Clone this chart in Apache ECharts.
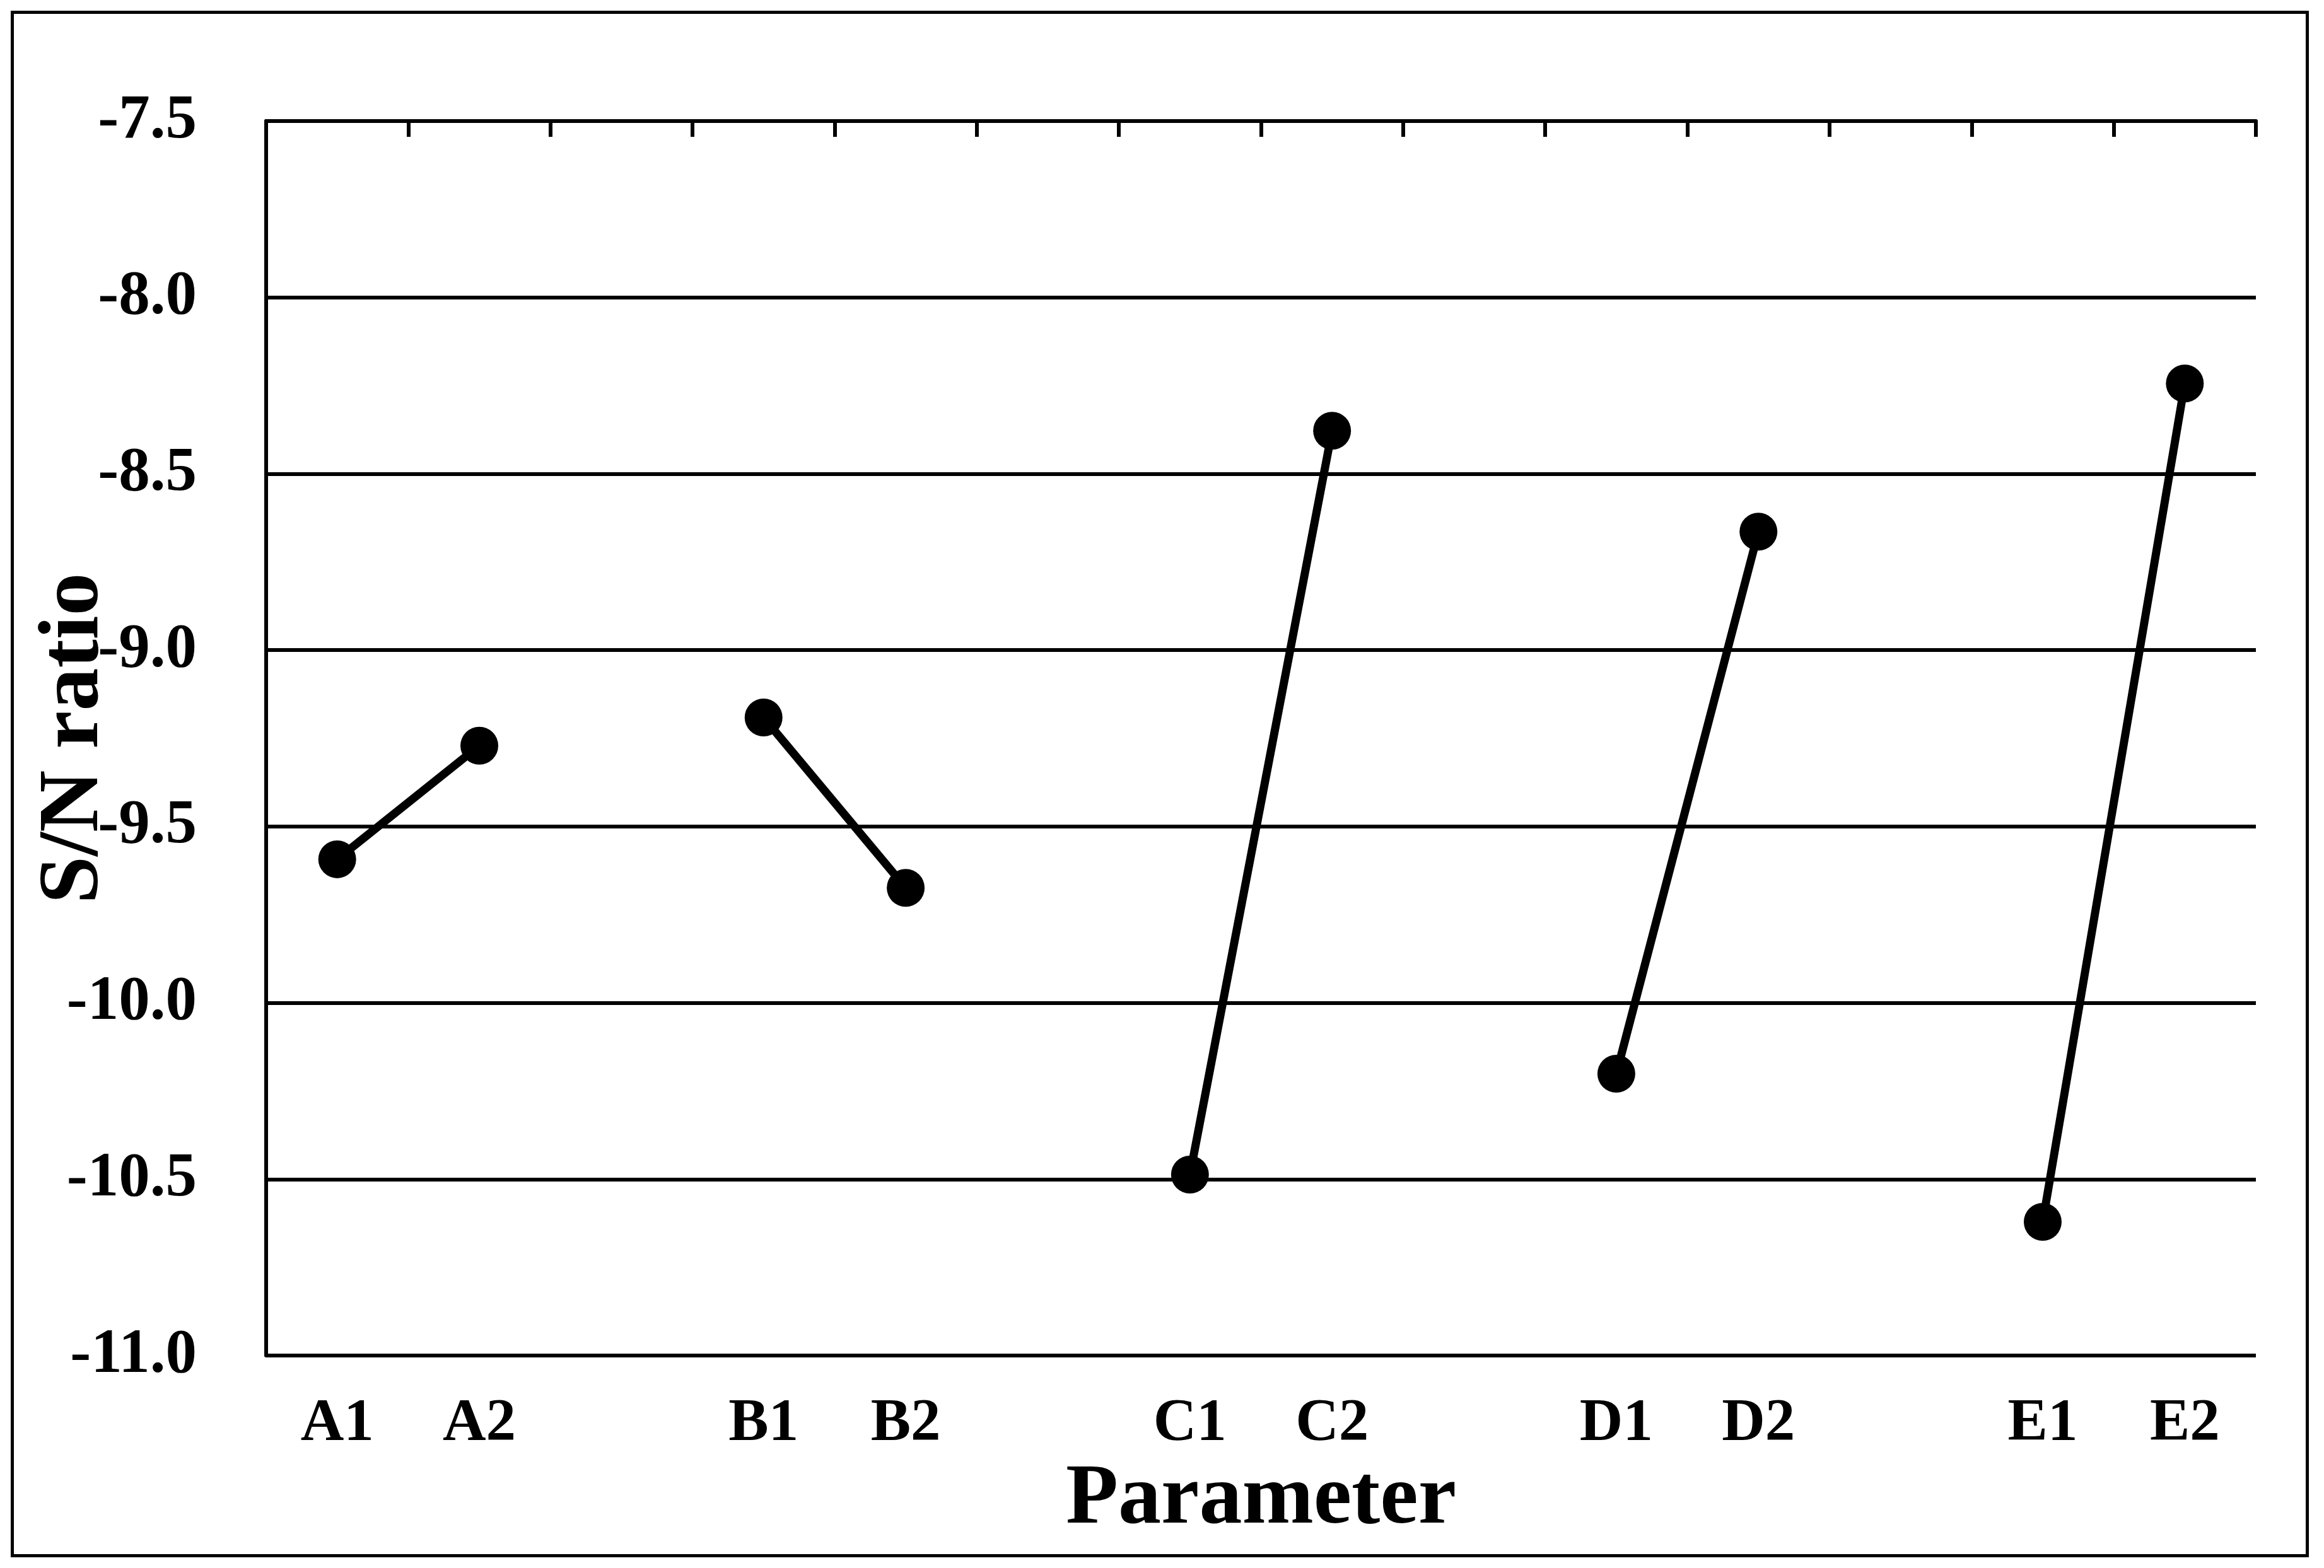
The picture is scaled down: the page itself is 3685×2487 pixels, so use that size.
<!DOCTYPE html>
<html>
<head>
<meta charset="utf-8">
<script src="https://cdn.jsdelivr.net/npm/echarts@6/dist/echarts.min.js"></script>
<style>
html,body{margin:0;padding:0;background:#fff;}
#c{width:3685px;height:2487px;}
</style>
</head>
<body>
<div id="c"></div>
<script>
// Categories (blank slots separate the factor groups)
const categories = ['A1','A2',' ','B1','B2','  ','C1','C2','   ','D1','D2','    ','E1','E2'];
// S/N ratio values (null = gap between factors)
const snValues = [-9.593, -9.271, null, -9.191, -9.674, null, -10.487, -8.378, null, -10.201, -8.664, null, -10.621, -8.244];
// Y axis range / ticks
const yMin = -11.0, yMax = -7.5, yStep = 0.5;
const xTitle = 'Parameter';
const yTitle = 'S/N ratio';

const FONT = "'Liberation Serif', 'Times New Roman', serif";
const chart = echarts.init(document.getElementById('c'), null, {renderer:'canvas'});
chart.setOption({
  animation: false,
  backgroundColor: '#fff',
  graphic: [{
    type: 'rect', left: 17, top: 17,
    shape: {width: 3639, height: 2448},
    style: {fill: 'none', stroke: '#000', lineWidth: 5},
    silent: true
  }],
  grid: {left: 422, right: 108, top: 192, bottom: 337, containLabel: false, outerBoundsMode: 'none'},
  xAxis: [{
    type: 'category', position: 'bottom', data: categories, boundaryGap: true,
    axisLine: {show: false}, axisTick: {show: false},
    axisLabel: {interval: 0, margin: 62, color: '#000', fontFamily: FONT, fontWeight: 'bold', fontSize: 95},
    name: xTitle, nameLocation: 'middle', nameGap: 145,
    nameTextStyle: {color: '#000', fontFamily: FONT, fontWeight: 'bold', fontSize: 136}
  }, {
    type: 'category', position: 'top', data: categories, boundaryGap: true,
    axisLine: {show: true, lineStyle: {color: '#000', width: 6}},
    axisTick: {show: true, inside: true, length: 25, interval: 0, lineStyle: {color: '#000', width: 6}},
    axisLabel: {show: false}
  }],
  yAxis: {
    type: 'value', min: yMin, max: yMax, interval: yStep,
    axisLine: {show: true, lineStyle: {color: '#000', width: 6}},
    axisTick: {show: false},
    splitLine: {show: true, lineStyle: {color: '#000', width: 6}},
    axisLabel: {margin: 110, color: '#000', fontFamily: FONT, fontWeight: 'bold', fontSize: 99,
      formatter: v => v.toFixed(1)},
    name: yTitle, nameLocation: 'middle', nameGap: 235, nameRotate: 90, nameMoveOverlap: false,
    nameTextStyle: {color: '#000', fontFamily: FONT, fontWeight: 'bold', fontSize: 136}
  },
  series: [{
    type: 'line', xAxisIndex: 0, data: snValues, connectNulls: false,
    symbol: 'circle', symbolSize: 60,
    lineStyle: {color: '#000', width: 13},
    itemStyle: {color: '#000'},
    z: 5
  }]
});
</script>
</body>
</html>
